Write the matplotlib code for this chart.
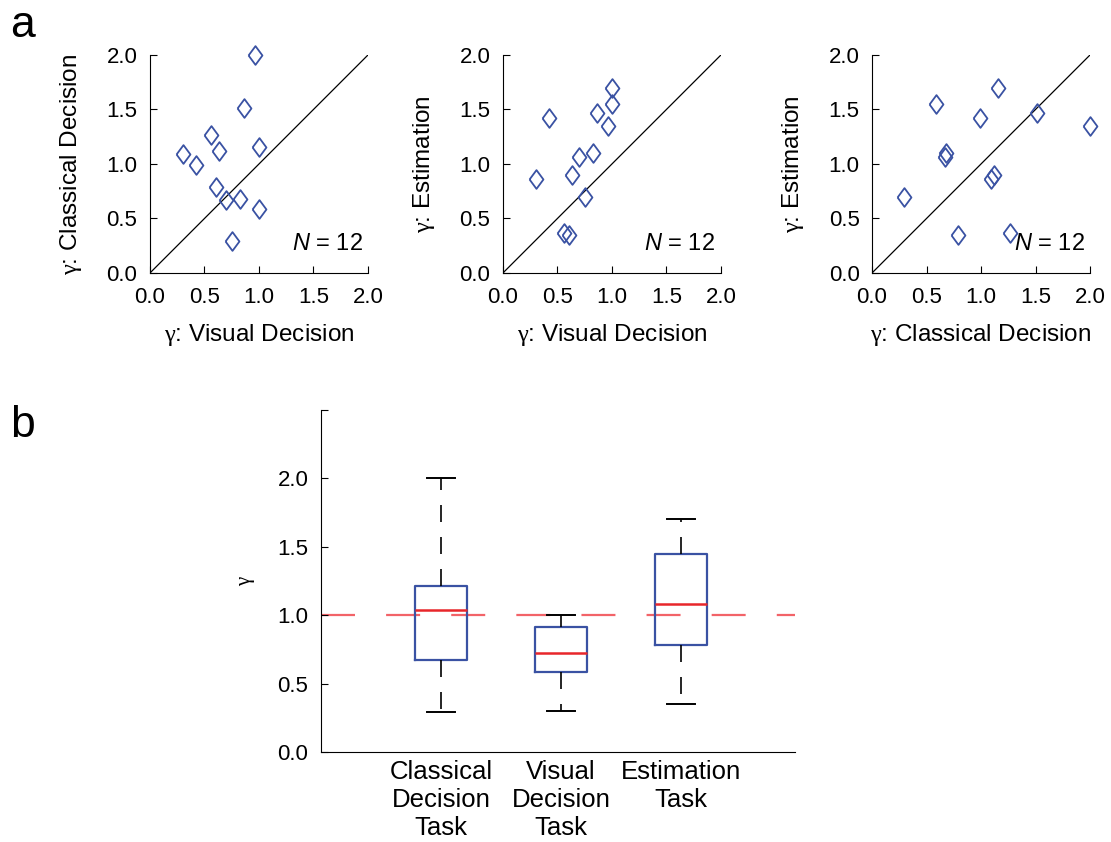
import numpy as np
import matplotlib.pyplot as plt

plt.rcParams['font.family'] = ['Liberation Sans', 'DejaVu Sans']
plt.rcParams['mathtext.fontset'] = 'custom'
plt.rcParams['mathtext.rm'] = 'Liberation Serif'
plt.rcParams['mathtext.it'] = 'Liberation Sans:italic'

# gamma for each of the 12 subjects, one value per task
visual = [0.96, 0.86, 0.56, 0.30, 0.63, 1.00, 0.42, 0.61, 0.70, 0.83, 1.00, 0.75]
classical = [2.00, 1.51, 1.27, 1.09, 1.12, 1.16, 0.99, 0.79, 0.67, 0.68, 0.59, 0.29]
estimation = [1.35, 1.47, 0.37, 0.86, 0.90, 1.70, 1.42, 0.35, 1.06, 1.10, 1.55, 0.70]

task_labels = ['Classical\nDecision\nTask', 'Visual\nDecision\nTask', 'Estimation\nTask']
ticks = [0, 0.5, 1.0, 1.5, 2.0]

blue = '#3a52a3'
g = r'$\mathrm{\gamma}$'
diamond = [(-0.37, 0), (0, 0.5), (0.37, 0), (0, -0.5), (-0.37, 0)]

fig = plt.figure(figsize=(11.11, 8.42), dpi=100)

# panel a: pairwise scatter plots
pairs = [
    (visual, classical, 'Visual Decision', 'Classical Decision', 0.135),
    (visual, estimation, 'Visual Decision', 'Estimation', 0.4527),
    (classical, estimation, 'Classical Decision', 'Estimation', 0.7849),
]
for xs, ys, xl, yl, left in pairs:
    ax = fig.add_axes([left, 0.6758, 0.1962, 0.2589])
    ax.plot([0, 2], [0, 2], color='k', lw=0.9)
    ax.plot(xs, ys, linestyle='none', marker=diamond, markersize=13.5,
            markerfacecolor='none', markeredgecolor=blue, markeredgewidth=1.3,
            clip_on=False)
    ax.set_xlim(0, 2)
    ax.set_ylim(0, 2)
    ax.set_xticks(ticks)
    ax.set_yticks(ticks)
    ax.set_xticklabels(['%.1f' % t for t in ticks])
    ax.set_yticklabels(['%.1f' % t for t in ticks])
    ax.tick_params(direction='in', length=5, labelsize=16)
    ax.tick_params(axis='x', pad=10)
    ax.tick_params(axis='y', pad=9)
    ax.spines[['top', 'right']].set_visible(False)
    ax.set_xlabel(g + ': ' + xl, fontsize=17.5, labelpad=10)
    ax.set_ylabel(g + ': ' + yl, fontsize=17.5, labelpad=16)
    ax.text(1.95, 0.27, r'$\mathit{N}$ = 12', fontsize=17, ha='right', va='center')

fig.text(0.009, 0.97, 'a', fontsize=32, va='center')
fig.text(0.009, 0.495, 'b', fontsize=32, va='center')

# panel b: box plot
ax = fig.add_axes([0.2889, 0.1069, 0.4266, 0.4062])
stats = []
for vals in [classical, visual, estimation]:
    q1, med, q3 = np.percentile(vals, [25, 50, 75], method='hazen')
    stats.append(dict(med=med, q1=q1, q3=q3, whislo=min(vals), whishi=max(vals), fliers=[]))

ax.axhline(1.0, color='#ee2f36', alpha=0.75, lw=1.6, dashes=(15.3, 14), zorder=1.5)
ax.bxp(stats, positions=[1, 2, 3], widths=0.44, capwidths=0.23, showfliers=False,
       boxprops=dict(color=blue, lw=1.6),
       medianprops=dict(color='#e8262b', lw=1.8),
       whiskerprops=dict(color='k', lw=1.2, linestyle=(0, (10.2, 9))),
       capprops=dict(color='k', lw=1.4))
ax.set_xlim(0, 3.95)
ax.set_ylim(0, 2.5)
ax.set_yticks([0, 0.5, 1.0, 1.5, 2.0, 2.5])
ax.set_yticklabels(['0.0', '0.5', '1.0', '1.5', '2.0', ''])
ax.set_xticks([1, 2, 3])
ax.set_xticklabels(task_labels, fontsize=18.5, linespacing=1.2)
ax.tick_params(axis='y', direction='in', length=5, labelsize=16, pad=9)
ax.tick_params(axis='x', length=0, pad=6)
ax.spines[['top', 'right']].set_visible(False)
ax.set_ylabel(g, fontsize=15, labelpad=15)

fig.savefig('out.png', dpi=100)
